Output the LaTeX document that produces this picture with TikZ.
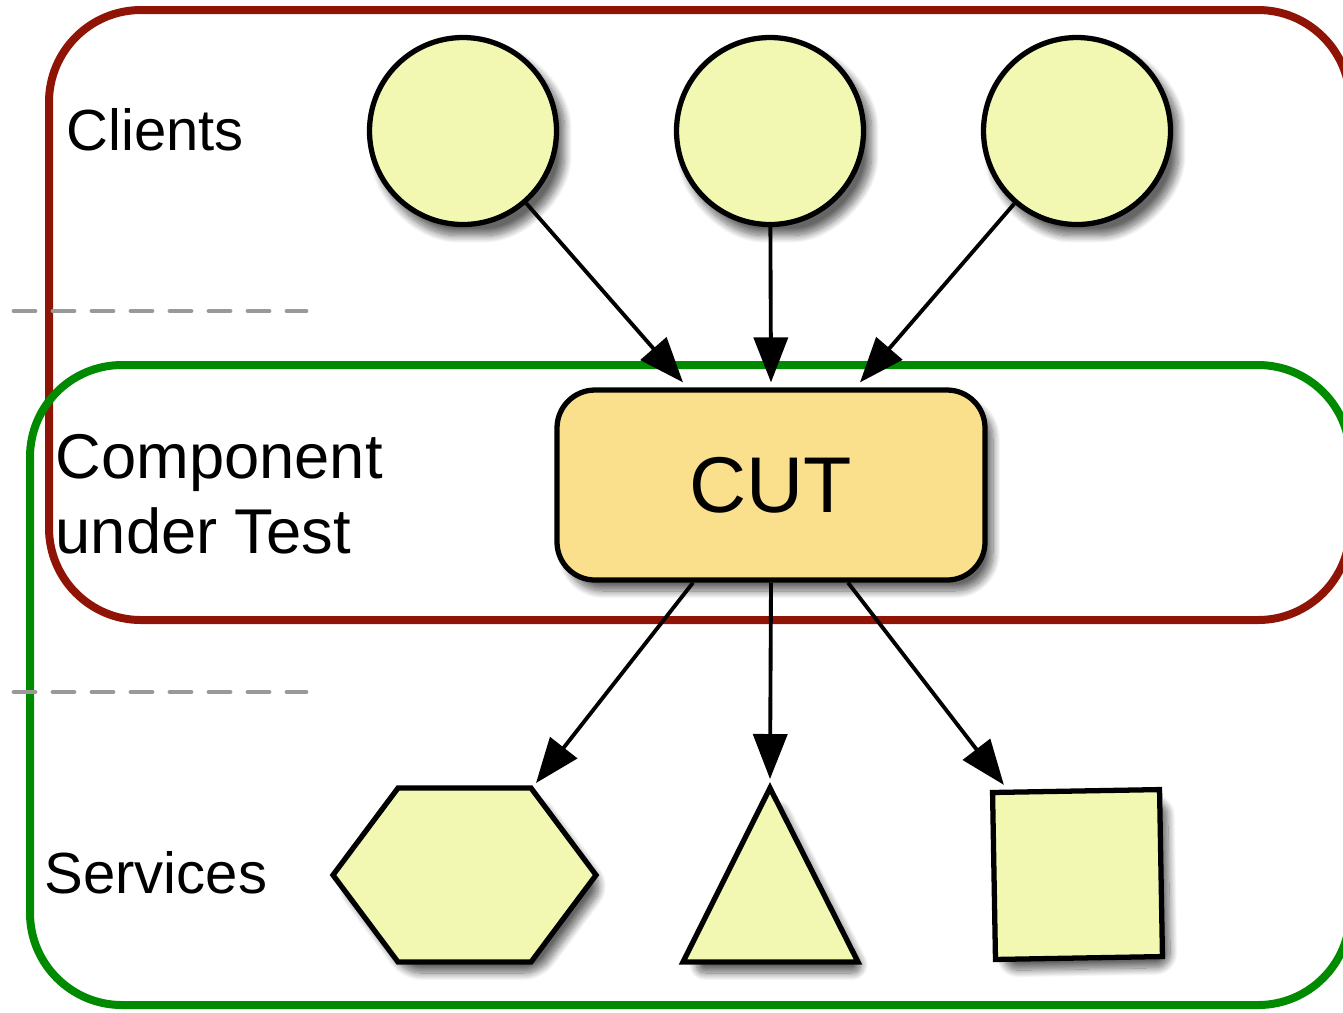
\documentclass[tikz,border=0pt]{standalone}
\usepackage{fontspec}
\setmainfont{Liberation Sans}
\usetikzlibrary{arrows.meta,positioning,calc,shadows.blur}
\definecolor{framered}{RGB}{144,20,5}
\definecolor{framegreen}{RGB}{0,138,0}
\definecolor{paleyellow}{RGB}{242,248,178}
\definecolor{cutorange}{RGB}{250,224,140}
\definecolor{dashgray}{RGB}{153,153,153}

\begin{document}
\begin{tikzpicture}[
 frame/.style={line width=0.8mm,rounded corners=0.92cm},
 shp/.style={draw=black,line width=1.5pt,fill=paleyellow,blur shadow={shadow xshift=0.8mm,shadow yshift=-1.1mm,shadow blur steps=14,shadow blur extra rounding=1.5mm,shadow opacity=60}},
 client/.style={shp,circle,minimum size=1.87cm,inner sep=0},
 arr/.style={-{Triangle[length=4.5mm,width=3.4mm]},line width=1.1pt,draw=black,fill=black,opacity=1,fill opacity=1},
 sep/.style={dashgray,line width=1.4pt,dash pattern=on 2.1mm off 1.8mm,line cap=round},
 lbl/.style={anchor=base west,inner sep=0}]
\useasboundingbox (0,0) rectangle (13.43,-10.12);
% layer frames
\draw[frame,framered] (0.49,-0.10) rectangle (13.50,-6.20);
\draw[frame,framegreen] (0.30,-3.65) rectangle (13.50,-10.05);
\draw[sep] (0.14,-3.11) -- (3.06,-3.11);
\draw[sep] (0.14,-6.92) -- (3.06,-6.92);
% labels
\node[lbl,font=\fontsize{16.5}{20}\selectfont] (clients) at (0.66,-1.50) {Clients};
\node[lbl,align=left,font=\fontsize{18}{21.3}\selectfont] (cutlbl) at (0.55,-5.53) {Component\\under Test};
\node[lbl,font=\fontsize{16.5}{20}\selectfont] (services) at (0.44,-8.93) {Services};
% clients
\node[client] (c1) at (4.63,-1.31) {};
\node[client] (c2) at (7.70,-1.31) {};
\node[client] (c3) at (10.77,-1.31) {};
% component
\node[shp,fill=cutorange,rounded corners=0.38cm,minimum width=4.28cm,minimum height=1.9cm,font=\fontsize{22.5}{27}\selectfont] (cut) at (7.71,-4.85) {CUT};
% services
\draw[shp] (3.33,-8.75) -- (3.98,-7.88) -- (5.31,-7.88) -- (5.96,-8.75) -- (5.31,-9.62) -- (3.98,-9.62) -- cycle;
\draw[shp] (7.70,-7.88) -- (8.58,-9.62) -- (6.83,-9.62) -- cycle;
\node[shp,rectangle,minimum size=1.67cm,inner sep=0,rotate=1] (sq) at (10.775,-8.745) {};
\coordinate (hexa) at (5.36,-7.83);
\coordinate (tri) at (7.70,-7.79);
\coordinate (sqa) at ($(sq.north west)+(0.14,0.05)$);
% calls
\foreach \c/\dx in {c1/-8.8mm,c2/0mm,c3/8.9mm}
  \draw[arr] (\c) -- ([xshift=\dx,yshift=0.5mm]cut.north);
\foreach \dx/\t in {-7.8mm/hexa,0mm/tri,7.7mm/sqa}
  \draw[arr] ([xshift=\dx]cut.south) -- (\t);
\end{tikzpicture}
\end{document}
